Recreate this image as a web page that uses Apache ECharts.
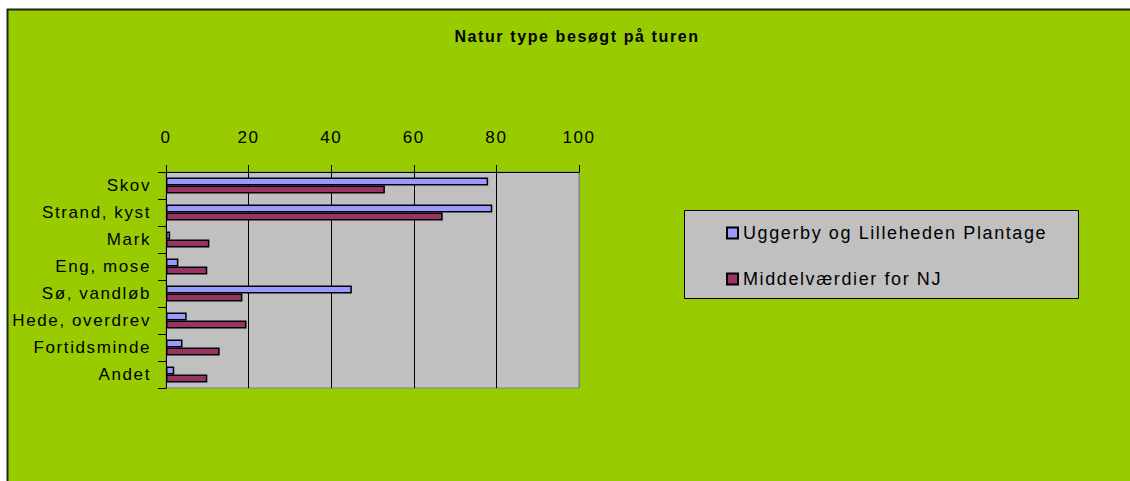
<!DOCTYPE html>
<html>
<head>
<meta charset="utf-8">
<script src="https://cdn.jsdelivr.net/npm/echarts@6/dist/echarts.min.js"></script>
<style>
html,body{margin:0;padding:0;background:#fff;}
#c{width:1130px;height:481px;}
#c svg text{letter-spacing:1.6px;}
</style>
</head>
<body>
<div id="c"></div>
<script>
var categories = ['Skov', 'Strand, kyst', 'Mark', 'Eng, mose', 'Sø, vandløb', 'Hede, overdrev', 'Fortidsminde', 'Andet'];
var seriesNames = ['Uggerby og Lilleheden Plantage', 'Middelværdier for NJ'];
var uggerby = [78, 79, 1, 3, 45, 5, 4, 2];
var middel = [53, 67, 10.5, 10, 18.5, 19.5, 13, 10];
var xTicks = [0, 20, 40, 60, 80, 100];
var titleText = 'Natur type besøgt på turen';

var FONT = '"Liberation Sans", Arial, sans-serif';
var chart = echarts.init(document.getElementById('c'), null, {renderer: 'svg'});
chart.setOption({
  backgroundColor: '#ffffff',
  animation: false,
  graphic: [
    {type: 'rect', z: -10, silent: true,
     shape: {x: 7.5, y: 9.5, width: 1140, height: 490},
     style: {fill: '#99CC00', stroke: '#222', lineWidth: 2}},
    {type: 'rect', z: -5, silent: true,
     shape: {x: 684.5, y: 210.5, width: 394, height: 88},
     style: {fill: '#C0C0C0', stroke: '#000', lineWidth: 1}}
  ],
  title: {
    text: titleText,
    left: 572, top: 23, textAlign: 'center',
    textStyle: {fontFamily: FONT, fontSize: 16, fontWeight: 'bold', color: '#000'}
  },
  legend: {
    orient: 'vertical',
    left: 721, top: 219,
    itemWidth: 11, itemHeight: 11, itemGap: 28,
    icon: 'rect',
    data: seriesNames,
    textStyle: {fontFamily: FONT, fontSize: 18, color: '#000'}
  },
  grid: {
    left: 166, top: 172, width: 413, height: 216,
    show: true, backgroundColor: '#C0C0C0', borderColor: '#808080', borderWidth: 1
  },
  xAxis: {
    type: 'value', position: 'top', min: 0, max: 100, interval: 20,
    axisLine: {show: true, lineStyle: {color: '#000', width: 1}},
    axisTick: {show: true, length: 7, lineStyle: {color: '#000'}},
    axisLabel: {
      fontFamily: FONT, fontSize: 17, color: '#000', margin: 26,
      formatter: function (v) { return xTicks.indexOf(v) >= 0 ? String(v) : ''; }
    },
    splitLine: {show: true, lineStyle: {color: ['#000', '#000', '#000', '#000', '#000', '#808080'], width: 1}}
  },
  yAxis: {
    type: 'category', inverse: true, data: categories,
    axisLine: {show: true, lineStyle: {color: '#000', width: 1}},
    axisTick: {show: true, length: 8, lineStyle: {color: '#000'}},
    axisLabel: {fontFamily: FONT, fontSize: 17, color: '#000', margin: 15},
    splitLine: {show: false}
  },
  series: [
    {name: seriesNames[0], type: 'bar', data: uggerby, barWidth: 8, barGap: '0%',
     itemStyle: {color: '#9999FF', borderColor: '#000', borderWidth: 1.5}},
    {name: seriesNames[1], type: 'bar', data: middel, barWidth: 8, barGap: '0%',
     itemStyle: {color: '#993366', borderColor: '#000', borderWidth: 1.5}}
  ]
});
</script>
</body>
</html>
